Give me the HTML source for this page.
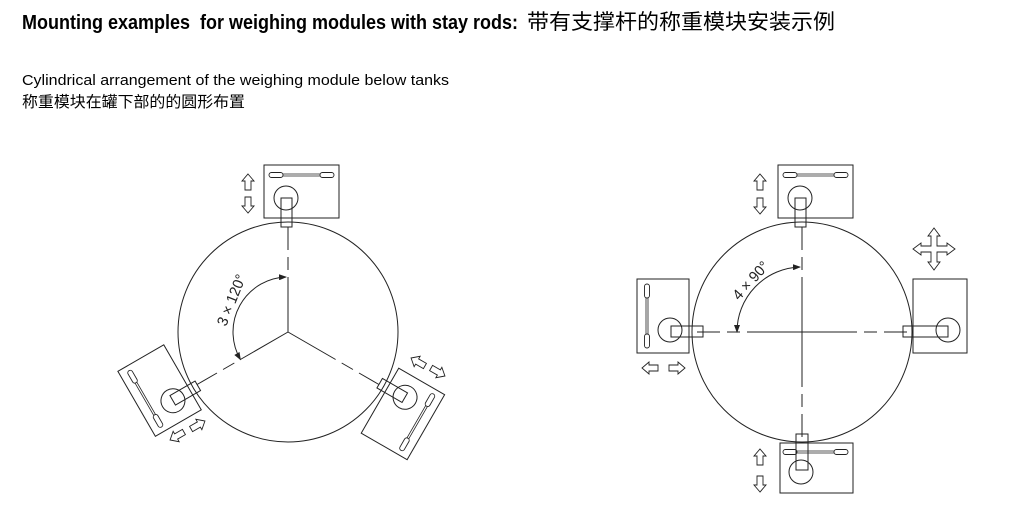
<!DOCTYPE html>
<html><head><meta charset="utf-8"><style>html,body{margin:0;padding:0;background:#fff}svg{display:block}</style></head>
<body>
<svg width="1034" height="509" viewBox="0 0 1034 509" xmlns="http://www.w3.org/2000/svg">
<defs>
<path id="ar" d="M0,-8 L6,-1 L3,-1 L3,8 L-3,8 L-3,-1 L-6,-1 Z" fill="#fff" stroke="#222" stroke-width="0.9"/>
<marker id="mk" markerWidth="8" markerHeight="6" refX="7" refY="3" orient="auto" markerUnits="userSpaceOnUse"><path d="M0,0 L8,3 L0,6 Z" fill="#222"/></marker>
<marker id="mk2" markerWidth="8" markerHeight="6" refX="1" refY="3" orient="auto" markerUnits="userSpaceOnUse"><path d="M8,0 L0,3 L8,6 Z" fill="#222"/></marker>
<g id="mod">
  <rect x="-24" y="-167" width="75" height="53" fill="#fff" stroke="#222"/>
  <rect x="-19" y="-159.5" width="14" height="5" rx="2.5" fill="#fff" stroke="#222" stroke-width="0.9"/>
  <rect x="32" y="-159.5" width="14" height="5" rx="2.5" fill="#fff" stroke="#222" stroke-width="0.9"/>
  <line x1="-5" y1="-158" x2="32" y2="-158" stroke="#222" stroke-width="0.8"/>
  <line x1="-5" y1="-156" x2="32" y2="-156" stroke="#222" stroke-width="0.8"/>
  <circle cx="-2" cy="-134" r="12" fill="none" stroke="#222"/>
  <rect x="-7" y="-134" width="11" height="29" fill="none" stroke="#222"/>
</g>
<g id="ray" stroke="#222" stroke-width="1">
  <line x1="0" y1="0" x2="0" y2="-55"/>
  <line x1="0" y1="-62" x2="0" y2="-75"/>
  <line x1="0" y1="-82" x2="0" y2="-105"/>
</g>
</defs>

<text x="22" y="29" xml:space="preserve" font-family="Liberation Sans, sans-serif" font-weight="bold" font-size="20" textLength="496" lengthAdjust="spacingAndGlyphs">Mounting examples  for weighing modules with stay rods:</text>
<text x="527" y="29" font-family="Liberation Sans, 'Noto Sans CJK SC', sans-serif" font-size="21" textLength="308" lengthAdjust="spacingAndGlyphs">带有支撑杆的称重模块安装示例</text>
<text x="22" y="85" font-family="Liberation Sans, sans-serif" font-size="15" textLength="427" lengthAdjust="spacingAndGlyphs">Cylindrical arrangement of the weighing module below tanks</text>
<text x="22" y="107" font-family="Liberation Sans, 'Noto Sans CJK SC', sans-serif" font-size="15.5" textLength="223" lengthAdjust="spacingAndGlyphs">称重模块在罐下部的的圆形布置</text>

<!-- Left diagram -->
<g transform="translate(288,332)" fill="none" stroke="#222">
  <circle r="110" fill="none" stroke="#222"/>
  <use href="#ray"/>
  <use href="#ray" transform="rotate(120)"/>
  <use href="#ray" transform="rotate(-120)"/>
  <use href="#mod"/>
  <use href="#mod" transform="rotate(120)"/>
  <use href="#mod" transform="rotate(-120)"/>
  <path d="M -47.6,27.5 A 55 55 0 0 1 -2,-55" fill="none" stroke="#222" marker-end="url(#mk)" marker-start="url(#mk2)"/>
</g>
<text transform="translate(226,327) rotate(-68)" font-family="Liberation Sans, sans-serif" font-size="15" fill="#222" textLength="54" lengthAdjust="spacingAndGlyphs">3 × 120°</text>
<use href="#ar" transform="translate(248,182)"/>
<use href="#ar" transform="translate(248,205) rotate(180)"/>
<use href="#ar" transform="translate(418,362) rotate(-60)"/>
<use href="#ar" transform="translate(438,372) rotate(120)"/>
<use href="#ar" transform="translate(177,436) rotate(-120)"/>
<use href="#ar" transform="translate(198,425) rotate(60)"/>

<!-- Right diagram -->
<g transform="translate(802,332)" fill="none" stroke="#222">
  <circle r="110"/>
  <use href="#ray"/>
  <use href="#ray" transform="rotate(90)"/>
  <use href="#ray" transform="rotate(180)"/>
  <use href="#ray" transform="rotate(-90)"/>
  <use href="#mod"/>
  <g transform="translate(0,277)">
    <rect x="-22" y="-166" width="73" height="50" fill="#fff" stroke="#222"/>
    <rect x="-19" y="-159.5" width="14" height="5" rx="2.5" fill="#fff" stroke="#222" stroke-width="0.9"/>
    <rect x="32" y="-159.5" width="14" height="5" rx="2.5" fill="#fff" stroke="#222" stroke-width="0.9"/>
    <line x1="-5" y1="-158" x2="32" y2="-158" stroke="#222" stroke-width="0.8"/>
    <line x1="-5" y1="-156" x2="32" y2="-156" stroke="#222" stroke-width="0.8"/>
    <circle cx="-1" cy="-137" r="12"/>
    <rect x="-6" y="-175" width="12" height="36"/>
  </g>
  <rect x="-165" y="-53" width="52" height="74" fill="#fff"/>
  <rect x="-157.5" y="-48" width="5" height="14" rx="2.5" stroke-width="0.9"/>
  <rect x="-157.5" y="2" width="5" height="14" rx="2.5" stroke-width="0.9"/>
  <line x1="-156" y1="-34" x2="-156" y2="2" stroke-width="0.8"/>
  <line x1="-154" y1="-34" x2="-154" y2="2" stroke-width="0.8"/>
  <circle cx="-132" cy="-2" r="12"/>
  <rect x="-131" y="-6" width="32" height="11"/>
  <rect x="111" y="-53" width="54" height="74" fill="#fff"/>
  <circle cx="146" cy="-2" r="12"/>
  <rect x="101" y="-6" width="45" height="11"/>
  <path d="M -65,0 A 65 65 0 0 1 -2,-65" marker-end="url(#mk)" marker-start="url(#mk2)"/>
</g>
<text transform="translate(739,301) rotate(-48)" font-family="Liberation Sans, sans-serif" font-size="15" fill="#222" textLength="46" lengthAdjust="spacingAndGlyphs">4 × 90°</text>
<use href="#ar" transform="translate(760,182)"/>
<use href="#ar" transform="translate(760,206) rotate(180)"/>
<use href="#ar" transform="translate(760,457)"/>
<use href="#ar" transform="translate(760,484) rotate(180)"/>
<use href="#ar" transform="translate(650,368) rotate(-90)"/>
<use href="#ar" transform="translate(677,368) rotate(90)"/>
<g transform="translate(934,249)">
  <path d="M-3,-3 L-3,-13 L-6,-13 L0,-21 L6,-13 L3,-13 L3,-3 L13,-3 L13,-6 L21,0 L13,6 L13,3 L3,3 L3,13 L6,13 L0,21 L-6,13 L-3,13 L-3,3 L-13,3 L-13,6 L-21,0 L-13,-6 L-13,-3 Z" fill="#fff" stroke="#222" stroke-width="0.9"/>
</g>
</svg>
</body></html>
